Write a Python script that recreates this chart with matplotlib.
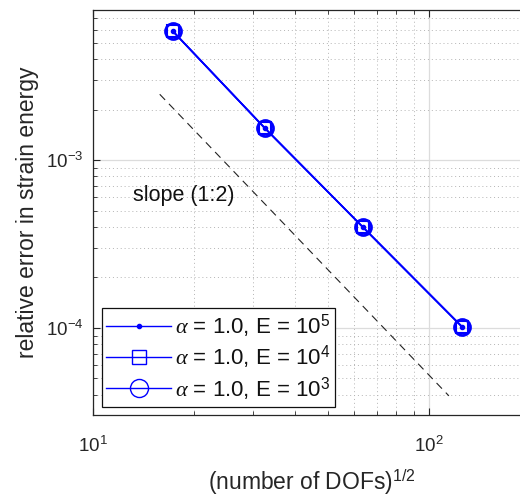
import matplotlib
matplotlib.use("Agg")
import matplotlib.pyplot as plt
from matplotlib.lines import Line2D
from matplotlib.ticker import LogLocator, NullFormatter

plt.rcParams["font.family"] = ["Liberation Sans", "DejaVu Sans"]
plt.rcParams["mathtext.fontset"] = "custom"
plt.rcParams["mathtext.rm"] = "Liberation Sans"
plt.rcParams["mathtext.it"] = "Liberation Serif:italic"
plt.rcParams["mathtext.bf"] = "Liberation Sans:bold"

# sqrt(number of DOFs) and relative strain-energy error for each Young's modulus
sqrt_dofs = [17.3, 32.5, 63.6, 125.3]
err_E1e5 = [5.86e-3, 1.55e-3, 3.99e-4, 1.02e-4]
err_E1e4 = [5.86e-3, 1.55e-3, 3.99e-4, 1.02e-4]
err_E1e3 = [5.86e-3, 1.55e-3, 3.99e-4, 1.02e-4]

# reference slope line end points
slope_x = [15.8, 114.7]
slope_y = [2.47e-3, 3.94e-5]

labels = [r"$\alpha$ = 1.0, E = 10$^{5}$",
          r"$\alpha$ = 1.0, E = 10$^{4}$",
          r"$\alpha$ = 1.0, E = 10$^{3}$"]

blue = (0, 0, 1)
dark = "#262626"

fig = plt.figure(figsize=(5.2, 4.97), dpi=100)
ax = fig.add_axes([93 / 520, 1 - 415 / 497, 437 / 520, 405 / 497])

ax.plot(sqrt_dofs, err_E1e5, "-", color=blue, lw=1.2, marker="o", ms=3, zorder=3)
ax.plot(sqrt_dofs, err_E1e4, "-", color=blue, lw=1.2, marker="s", ms=8,
        mfc="none", mec=blue, mew=1.5, zorder=3)
ax.plot(sqrt_dofs, err_E1e3, "-", color=blue, lw=1.2, marker="o", ms=11.5,
        mfc="none", mec=blue, mew=2.0, zorder=3)
ax.plot(slope_x, slope_y, color="#222222", lw=0.8, dashes=(7, 5), zorder=2)
ax.text(13.15, 6.2e-4, "slope (1:2)", fontsize=15.5, color="#111111",
        ha="left", va="center")

ax.set_xscale("log")
ax.set_yscale("log")
ax.set_xlim(10, 200)
ax.set_ylim(3.03e-5, 7.85e-3)

ax.xaxis.set_major_locator(LogLocator(base=10, numticks=10))
ax.xaxis.set_minor_locator(LogLocator(base=10, subs=range(2, 10), numticks=20))
ax.yaxis.set_major_locator(LogLocator(base=10, numticks=10))
ax.yaxis.set_minor_locator(LogLocator(base=10, subs=range(2, 10), numticks=20))
ax.xaxis.set_minor_formatter(NullFormatter())
ax.yaxis.set_minor_formatter(NullFormatter())

ax.grid(True, which="major", color="#dcdcdc", lw=0.9, ls="-", zorder=0)
ax.grid(True, which="minor", color="#b4b4b4", lw=0.7, ls=(0, (1, 3)), zorder=0)
ax.set_axisbelow(True)

for side in ["left", "bottom", "top"]:
    ax.spines[side].set_color(dark)
    ax.spines[side].set_linewidth(0.9)
ax.spines["right"].set_visible(False)

ax.tick_params(which="both", direction="in", top=True, right=False,
               color=dark, labelcolor="#262626", labelsize=13.5)
ax.tick_params(which="major", length=5, width=0.8)
ax.tick_params(which="minor", length=3, width=0.6)
ax.tick_params(axis="x", which="major", pad=15)
ax.tick_params(axis="y", which="major", pad=7)

ax.set_xlabel(r"(number of DOFs)$^{1/2}$", fontsize=16.5, color="#262626")
ax.set_ylabel("relative error in strain energy", fontsize=16.5, color="#262626")
ax.xaxis.set_label_coords(0.501, -0.131)
ax.yaxis.set_label_coords(-0.1236, 0.5)

handles = [
    Line2D([], [], color=blue, lw=1.0, marker="o", ms=3),
    Line2D([], [], color=blue, lw=1.0, marker="s", ms=9.5, mfc="none", mec=blue, mew=1.0),
    Line2D([], [], color=blue, lw=1.0, marker="o", ms=13, mfc="none", mec=blue, mew=1.0),
]
leg = ax.legend(handles, labels, loc="lower left",
                bbox_to_anchor=(9 / 437, 8 / 405), borderaxespad=0,
                fontsize=16, handlelength=2.9, handletextpad=0.2,
                labelspacing=0.17, borderpad=0.2, fancybox=False,
                framealpha=1, edgecolor="#111111")
leg.get_frame().set_linewidth(0.9)
for t in leg.get_texts():
    t.set_color("#111111")

fig.savefig("out.png", dpi=100)
